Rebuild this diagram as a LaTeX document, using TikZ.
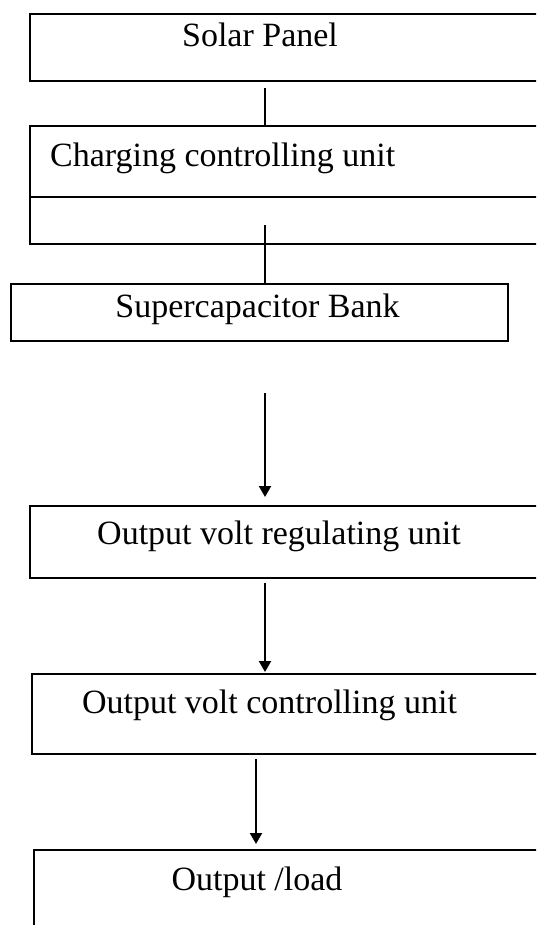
\documentclass[tikz,border=0pt]{standalone}
\usepackage{fontspec}
\setmainfont{Liberation Serif}
\usetikzlibrary{arrows.meta}
\begin{document}
\begin{tikzpicture}[x=1pt,y=-1pt,
  box/.style={draw,line width=2.2pt,rectangle,inner sep=0pt,anchor=north west},
  lbl/.style={font=\fontsize{34}{40}\selectfont,anchor=base,inner sep=0pt},
  conn/.style={line width=2.2pt},
  arr/.style={line width=2.2pt,-{Triangle[length=11pt,width=12pt]}}]
\useasboundingbox (0,0) rectangle (536,925);
\clip (0,0) rectangle (536,925);
\fill[white] (0,0) rectangle (536,925);
% boxes
\node[box,minimum width=520pt,minimum height=67pt] (b1) at (29,13) {};
\node[box,minimum width=520pt,minimum height=118pt] (b2) at (29,125) {};
\draw[conn] (29,197) -- (545,197);
\node[box,minimum width=497pt,minimum height=57pt] (b3) at (10,283) {};
\node[box,minimum width=520pt,minimum height=72pt] (b4) at (29,505) {};
\node[box,minimum width=520pt,minimum height=80pt] (b5) at (31,673) {};
\node[box,minimum width=520pt,minimum height=100pt] (b6) at (33,849) {};
% labels
\node[lbl] (t1) at (260,47) {Solar Panel};
\node[lbl,anchor=base west] (t2) at (50,167) {Charging controlling unit};
\node[lbl] (t3) at (257.5,317) {Supercapacitor Bank};
\node[lbl] (t4) at (279,544) {Output volt regulating unit};
\node[lbl] (t5) at (269.5,713) {Output volt controlling unit};
\node[lbl] (t6) at (257,890) {Output /load};
% connectors
\coordinate (cx) at (265,0);
\coordinate (cy) at (256,0);
\draw[conn] ([yshift=-6pt]b1.south -| cx) -- (b2.north -| cx);
\draw[conn] ([yshift=20pt]b2.south -| cx) -- (b3.north -| cx);
\draw[arr] ([yshift=-51pt]b3.south -| cx) -- ([yshift=8pt]b4.north -| cx);
\draw[arr] ([yshift=-4pt]b4.south -| cx) -- ([yshift=1pt]b5.north -| cx);
\draw[arr] ([yshift=-4pt]b5.south -| cy) -- ([yshift=5pt]b6.north -| cy);
\end{tikzpicture}
\end{document}
